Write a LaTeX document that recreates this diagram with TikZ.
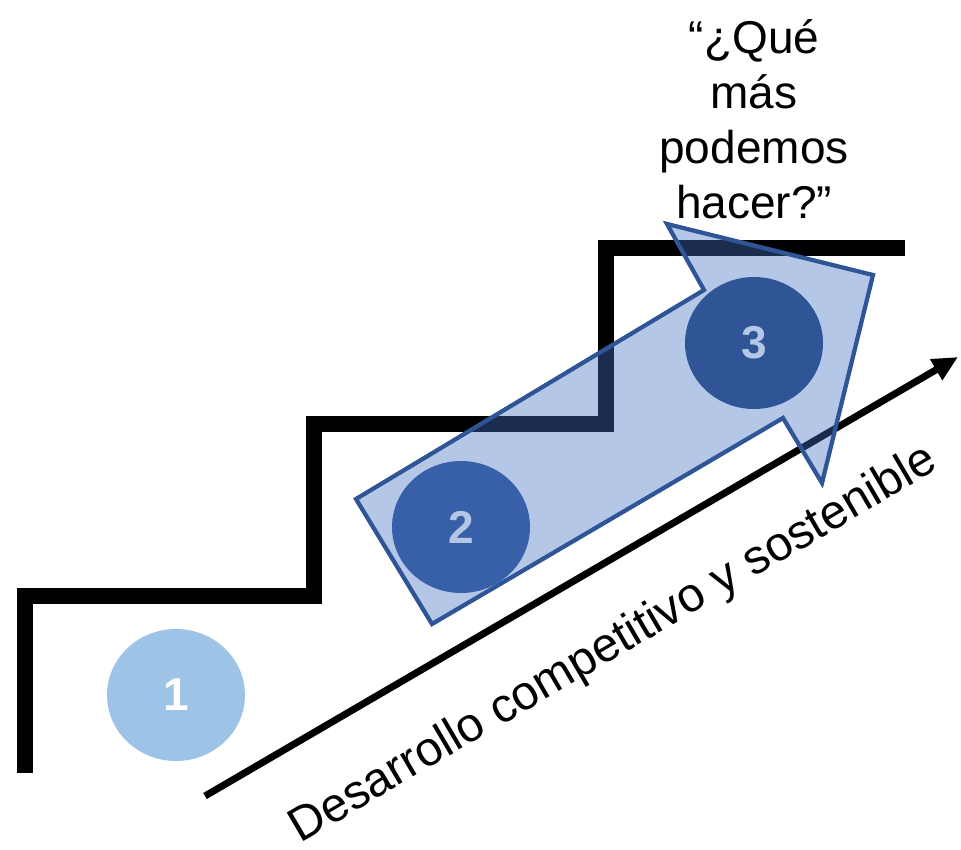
\documentclass[tikz,border=0pt]{standalone}
\usepackage{fontspec}
\setmainfont{Liberation Sans}
\usetikzlibrary{shapes.geometric,arrows.meta}
\definecolor{lightnum}{HTML}{9DC3E6}
\definecolor{darkblue}{HTML}{2F5597}
\definecolor{midblue}{HTML}{4472C4}
\definecolor{paleblue}{HTML}{B4C7E7}
\tikzset{
  stair/.style={line width=12pt, line join=miter, line cap=butt, black},
  axis/.style={line width=5.25pt, black, -{Triangle[length=19pt,width=17pt]}},
  bigarrow/.style={draw=darkblue, line width=3.2pt, line join=miter, fill=midblue, fill opacity=0.4},
  numdisc/.style={ellipse, minimum width=103.5pt, minimum height=99pt, inner sep=0pt,
    font=\fontsize{34.5}{40}\selectfont\bfseries},
}
\begin{document}
\begin{tikzpicture}[x=0.75pt,y=-0.75pt]
\useasboundingbox (0,0) rectangle (961,850);
% staircase
\draw[stair] (25,773) -- (25,596) -- (314,596) -- (314,424) -- (606,424) -- (606,248) -- (905,248);
% axis arrow
\coordinate (axA) at (205,796);
\coordinate (axB) at (958,357);
\draw[axis] (axA) -- (axB);
% circles 1 and 2
\node[numdisc, fill=lightnum, text=white] (c1) at (176,695) {1};
\node[numdisc, fill=darkblue, text=white] (c2) at (461,527) {2};
% big translucent arrow
\draw[bigarrow] (356,499) -- (704,290) -- (667,224) -- (873,275) -- (822,483) -- (783,418) -- (432,624) -- cycle;
% circle 3
\node[numdisc, fill=darkblue, text=paleblue] (c3) at (754,343) {3};
% labels
\node[anchor=base, rotate=30.4, inner sep=0pt, font=\fontsize{36}{43}\selectfont] (lab) at (620,656) {Desarrollo competitivo y sostenible};
\node[anchor=base, align=center, inner sep=0pt, font=\fontsize{34.5}{41.25}\selectfont] (q) at (754,218) {“¿Qué\\más\\podemos\\hacer?”};
\end{tikzpicture}
\end{document}
